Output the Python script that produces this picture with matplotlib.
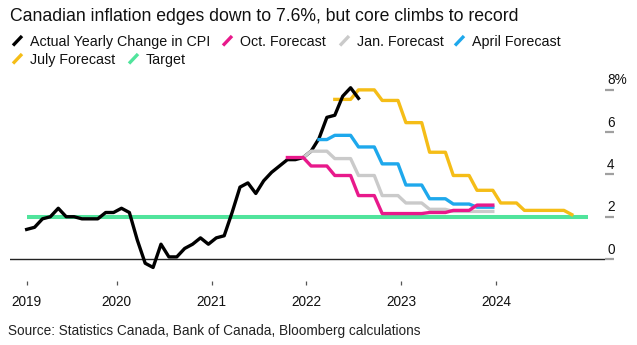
import numpy as np
import matplotlib
matplotlib.use("Agg")
import matplotlib.pyplot as plt
from matplotlib.lines import Line2D
from matplotlib.transforms import ScaledTranslation

plt.rcParams['font.family'] = ['Liberation Sans', 'DejaVu Sans']

# ---- data -------------------------------------------------------------
# Actual CPI, year-over-year % change, monthly from Jan 2019 (month 0)
cpi_actual = [
    1.4, 1.5, 1.9, 2.0, 2.4, 2.0, 2.0, 1.9, 1.9, 1.9, 2.2, 2.2,     # 2019
    2.4, 2.2, 0.9, -0.2, -0.4, 0.7, 0.1, 0.1, 0.5, 0.7, 1.0, 0.7,   # 2020
    1.0, 1.1, 2.2, 3.4, 3.6, 3.1, 3.7, 4.1, 4.4, 4.7, 4.7, 4.8,     # 2021
    5.1, 5.7, 6.7, 6.8, 7.7, 8.1, 7.6,                              # 2022
]

# Bank of Canada forecasts: quarterly values, first quarter starting at the
# given month index; (first_month, last_month) is the span that is drawn
oct_q_start = 33
oct_quarters = [4.8, 4.4, 3.95, 3.0, 2.15, 2.15, 2.2, 2.3, 2.55]
oct_span = (33, 59)

jan_q_start = 33
jan_quarters = [4.8, 5.1, 4.75, 3.95, 3.0, 2.65, 2.35, 2.25, 2.25]
jan_span = (35, 59)

apr_q_start = 36
apr_quarters = [5.65, 5.85, 5.3, 4.5, 3.5, 2.85, 2.6, 2.45]
apr_span = (37, 59)

jul_q_start = 39
jul_quarters = [7.55, 8.0, 7.5, 6.45, 5.05, 3.95, 3.25, 2.65, 2.3, 2.3, 2.1]
jul_span = (39, 69)

target_rate = 2.0
target_span = (0, 71)

years = ['2019', '2020', '2021', '2022', '2023', '2024']
year_ticks = [0.0, 11.4, 23.4, 35.4, 47.4, 59.4]

y_ticks = [0, 2, 4, 6, 8]
y_labels = ['0', '2', '4', '6', '8%']

# ---- colours ------------------------------------------------------------
C_ACTUAL = '#000000'
C_OCT = '#e8198b'
C_JAN = '#cacaca'
C_APR = '#1ea8ec'
C_JUL = '#f5bd17'
C_TARGET = '#50e49c'


def monthly(q_start, quarters, span):
    months = q_start + np.arange(len(quarters) * 3)
    vals = np.repeat(quarters, 3)
    keep = (months >= span[0]) & (months <= span[1])
    return months[keep], vals[keep]


W, H = 637, 345
fig = plt.figure(figsize=(W / 100, H / 100), dpi=100)


def fx(px):
    return px / W


def fy(py):
    return 1 - py / H


ax = fig.add_axes([fx(10), fy(281), (605 - 10) / W, (281 - 70) / H])
ax.set_xlim(-2.11, 73.2)
ax.set_ylim(-1.04, 8.94)
for s in ax.spines.values():
    s.set_visible(False)

lw = 2.4
ax.axhline(0, color='#222222', lw=1.0, zorder=1)
ax.plot(list(target_span), [target_rate, target_rate], color=C_TARGET,
        lw=2.9, solid_capstyle='butt', zorder=2)

m, v = monthly(jul_q_start, jul_quarters, jul_span)
ax.plot(m, v, color=C_JUL, lw=lw, zorder=3)
ax.plot(np.arange(len(cpi_actual)), cpi_actual, color=C_ACTUAL, lw=lw, zorder=4)
m, v = monthly(apr_q_start, apr_quarters, apr_span)
ax.plot(m, v, color=C_APR, lw=lw, zorder=5)
m, v = monthly(jan_q_start, jan_quarters, jan_span)
ax.plot(m, v, color=C_JAN, lw=lw, zorder=6)
m, v = monthly(oct_q_start, oct_quarters, oct_span)
ax.plot(m, v, color=C_OCT, lw=lw, zorder=7)

# x axis: year ticks below the plot
ax.set_xticks(year_ticks)
ax.set_xticklabels(years)
ax.tick_params(axis='x', length=3.2, width=0.9, color='#555555', pad=7,
               labelsize=9.8, labelcolor='#111111')

# y axis: grey dashes on the right with the labels sitting above them
ax.yaxis.tick_right()
ax.set_yticks(y_ticks)
ax.set_yticklabels(y_labels)
ax.tick_params(axis='y', length=6.6, width=1.6, color='#a0a0a0', pad=0,
               labelsize=9.8, labelcolor='#111111')
shift = ScaledTranslation(-7 / 100, 11 / 100, fig.dpi_scale_trans)
for lab in ax.get_yticklabels():
    lab.set_transform(lab.get_transform() + shift)

# title
fig.text(fx(10), fy(20.7), 'Canadian inflation edges down to 7.6%, but core climbs to record',
         fontsize=12.7, color='#111111', ha='left', va='baseline')

# legend drawn as slanted swatches followed by labels
legend_items = [
    ('Actual Yearly Change in CPI', C_ACTUAL, 12, 46),
    ('Oct. Forecast', C_OCT, 222, 46),
    ('Jan. Forecast', C_JAN, 339, 46),
    ('April Forecast', C_APR, 454, 46),
    ('July Forecast', C_JUL, 12, 64),
    ('Target', C_TARGET, 128, 64),
]
for label, color, x0, base in legend_items:
    fig.add_artist(Line2D([fx(x0 + 1), fx(x0 + 10)], [fy(base - 0.5), fy(base - 10)],
                          color=color, lw=2.4, solid_capstyle='butt',
                          transform=fig.transFigure))
    fig.text(fx(x0 + 18), fy(base), label, fontsize=10.3, color='#111111',
             ha='left', va='baseline')

# source note
fig.text(fx(8), fy(334.5), 'Source: Statistics Canada, Bank of Canada, Bloomberg calculations',
         fontsize=9.8, color='#222222', ha='left', va='baseline')

fig.savefig('out.png', dpi=100)
